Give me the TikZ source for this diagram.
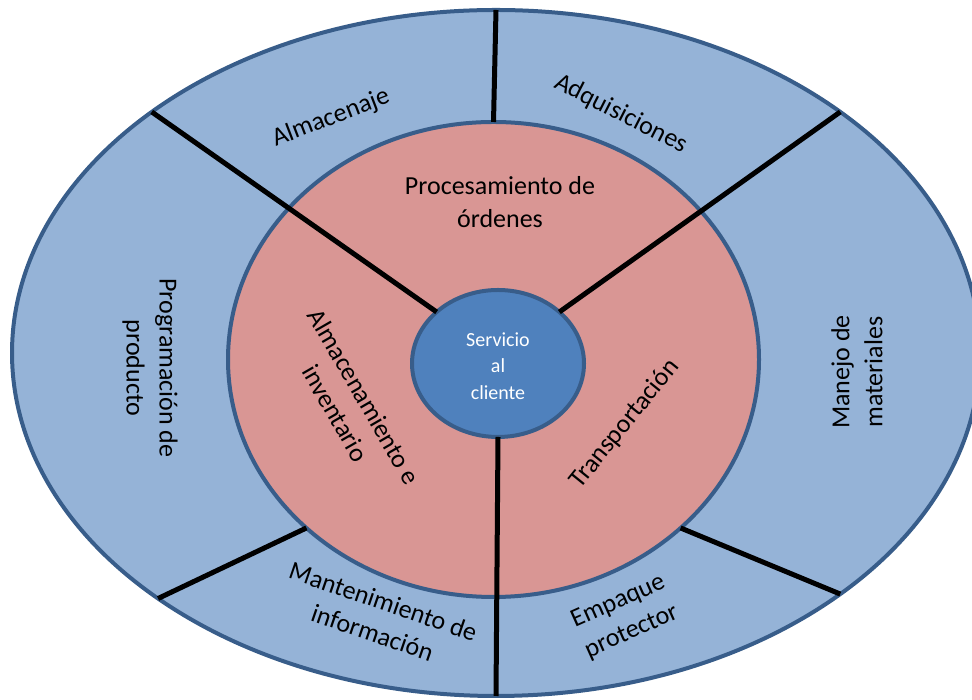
\documentclass[tikz,border=0pt]{standalone}
\usepackage{fontspec}
\setmainfont{Carlito}
\usetikzlibrary{shapes.geometric}
\definecolor{ringblue}{HTML}{95B3D7}
\definecolor{ringred}{HTML}{D99694}
\definecolor{coreblue}{HTML}{4F81BD}
\definecolor{edgeblue}{HTML}{385D8A}

\begin{document}
\begin{tikzpicture}[x=1pt, y=1pt,
    ring/.style={ellipse, draw=edgeblue, line width=4pt, inner sep=0pt, outer sep=0pt},
    spoke/.style={line width=5pt, black},
    lbl/.style={align=center, font=\fontsize{26}{33}\selectfont}]
  \clip (0,0) rectangle (972,700);

  \node[ring, fill=ringblue, minimum width=968pt, minimum height=686pt] (outer)  at (496,347) {};
  \node[ring, fill=ringred,  minimum width=531pt, minimum height=475pt] (middle) at (493.5,340.5) {};
  \node[ring, fill=coreblue, minimum width=172pt, minimum height=147pt] (inner)  at (498,336.5) {};

  \draw[spoke] (outer.90)  -- (middle.90);
  \draw[spoke] (outer.145) -- (inner.140);
  \draw[spoke] (outer.35)  -- (inner.40);
  \draw[spoke] (outer.216) -- (middle.222);
  \draw[spoke] (middle.318) -- (outer.325);
  \draw[spoke] (inner.south) -- (outer.south);

  \node[align=center, text=white, font=\fontsize{20}{26.5}\selectfont] (core) at (498,334) {Servicio\\al\\cliente};
  \node[lbl] (ordenes)   at (500,498) {Procesamiento de\\órdenes};
  \node[lbl, rotate=-60] (inventario) at (350,295) {Almacenamiento e\\inventario};
  \node[lbl, rotate=51]  (transporte) at (625,276) {Transportación};
  \node[lbl, rotate=21]  (almacenaje) at (331,582) {Almacenaje};
  \node[lbl, rotate=-27] (adquisicion) at (621,586) {Adquisiciones};
  \node[lbl, rotate=-90] (programa)  at (150,332) {Programación de\\producto};
  \node[lbl, rotate=90]  (manejo)    at (857,328) {Manejo de\\materiales};
  \node[lbl, rotate=-19] (informacion) at (378,83) {Mantenimiento de\\información};
  \node[lbl, rotate=24]  (empaque)   at (625,83) {Empaque\\protector};
\end{tikzpicture}
\end{document}
